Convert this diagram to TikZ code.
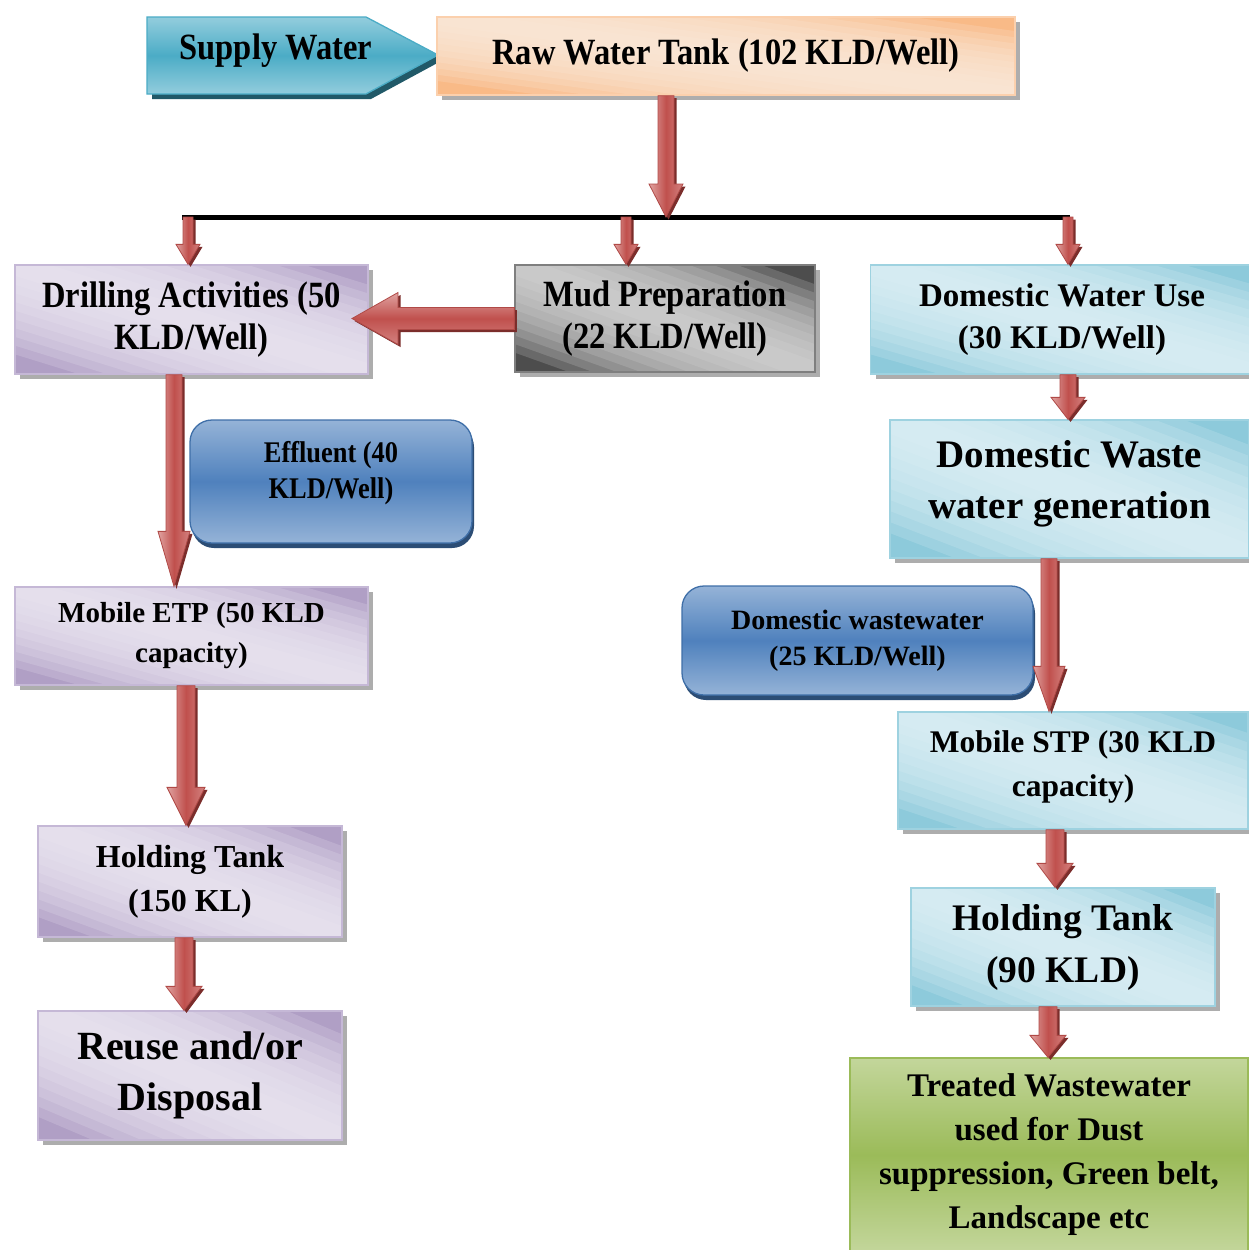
\documentclass[tikz,border=0pt]{standalone}
\usepackage{fontspec}
\setmainfont{Liberation Serif}
\newfontfamily\condf{Liberation Serif}[FakeStretch=0.88]
\usetikzlibrary{calc,shadows}
\definecolor{purD}{HTML}{B09FC5}
\definecolor{purL}{HTML}{EDE9F3}
\definecolor{purB}{HTML}{C5B8D6}
\definecolor{grayD}{HTML}{4D4D4D}
\definecolor{grayL}{HTML}{DADADA}
\definecolor{grayB}{HTML}{7F7F7F}
\definecolor{lbD}{HTML}{8DCADB}
\definecolor{lbL}{HTML}{E0F1F6}
\definecolor{lbB}{HTML}{9ED2E0}
\definecolor{peD}{HTML}{F9BA87}
\definecolor{peL}{HTML}{FDEBDD}
\definecolor{peB}{HTML}{FBD0AD}
\definecolor{grT}{HTML}{C3D69B}
\definecolor{grM}{HTML}{9BBB59}
\definecolor{blL}{HTML}{95B3D7}
\definecolor{blM}{HTML}{4F81BD}
\definecolor{blB}{HTML}{3F6FA8}
\definecolor{blS}{HTML}{2C4D75}
\definecolor{teaL}{HTML}{93CDDD}
\definecolor{teaM}{HTML}{4BACC6}
\definecolor{teaB}{HTML}{4BACC6}
\definecolor{teaS}{HTML}{215968}
\definecolor{redL}{HTML}{E0A3A1}
\definecolor{redM}{HTML}{C0504D}
\definecolor{redB}{HTML}{B04A47}
\definecolor{redS}{HTML}{7B2D2B}
\newcommand\fsz[2]{\fontsize{#1}{#2}\selectfont}
% one translucent band along the top-left / bottom-right diagonal of a box
\newcommand\diagband[2]{%
  \fill[#1, opacity=0.2]
    (path picture bounding box.north west)
    -- ($(path picture bounding box.north west)!#2!(path picture bounding box.north east)$)
    -- ($(path picture bounding box.south east)!#2!(path picture bounding box.north east)$)
    -- (path picture bounding box.south east)
    -- ($(path picture bounding box.south east)!#2!(path picture bounding box.south west)$)
    -- ($(path picture bounding box.north west)!#2!(path picture bounding box.south west)$)
    -- cycle;}
\begin{document}
\begin{tikzpicture}[x=1pt,y=-1pt,
  diag/.style 2 args={fill=#1, path picture={\foreach \s in {0.82,0.74,...,0.06}{\diagband{#2}{\s}}}},
  lightbox/.style 2 args={rectangle, inner sep=0pt, align=center, line width=1.3pt,
    minimum width=#1, minimum height=#2,
    drop shadow={shadow xshift=5pt, shadow yshift=-5pt, fill=black!40, opacity=.8}},
  purbox/.style 2 args={lightbox={#1}{#2}, draw=purB, diag={purD}{purL}},
  graybox/.style 2 args={lightbox={#1}{#2}, draw=grayB, diag={grayD}{grayL}},
  lbbox/.style 2 args={lightbox={#1}{#2}, draw=lbB, diag={lbD}{lbL}},
  pebox/.style 2 args={lightbox={#1}{#2}, draw=peB, diag={peD}{peL}},
  grbox/.style 2 args={lightbox={#1}{#2}, draw=grM, top color=grT, bottom color=grT, middle color=grM},
  bluebox/.style 2 args={rectangle, rounded corners=22pt, inner sep=0pt, align=center, draw=blB, line width=1.3pt,
    minimum width=#1, minimum height=#2,
    top color=blL, bottom color=blL, middle color=blM,
    drop shadow={shadow xshift=2pt, shadow yshift=-5pt, fill=blS, opacity=1}},
  redarr/.style={draw=redB, line width=0.8pt,
    drop shadow={shadow xshift=2.5pt, shadow yshift=-2.5pt, fill=redS, opacity=1}},
  downarr/.style n args={3}{redarr, left color=redL, right color=redL!60!redM, middle color=redM,
    to path={let \p1=(\tikztostart), \p2=(\tikztotarget) in
      (\x1-#1,\y1) -- (\x1+#1,\y1) -- (\x1+#1,\y2+#3) -- (\x1+#2,\y2+#3) -- (\x1,\y2)
      -- (\x1-#2,\y2+#3) -- (\x1-#1,\y2+#3) -- cycle}},
  leftarr/.style n args={3}{redarr, top color=redL, bottom color=redL!60!redM, middle color=redM,
    to path={let \p1=(\tikztostart), \p2=(\tikztotarget) in
      (\x1,\y1+#1) -- (\x2+#3,\y1+#1) -- (\x2+#3,\y1+#2) -- (\x2,\y1)
      -- (\x2+#3,\y1-#2) -- (\x2+#3,\y1-#1) -- (\x1,\y1-#1) -- cycle}}
]
\fill[white] (0,0) rectangle (1249,1250);
\useasboundingbox (0,0) rectangle (1249,1250);

% supply water arrow shape
\shade[top color=teaL, bottom color=teaL, middle color=teaM, draw=teaB, line width=1.3pt,
  drop shadow={shadow xshift=5pt, shadow yshift=-5pt, fill=teaS, opacity=1}]
  (147,17) -- (366,17) -- (438,55) -- (366,94) -- (147,94) -- cycle;
\node[font=\condf\bfseries\fsz{37}{42}] (supply) at (276,51) {Supply Water};

\node[pebox={578pt}{78pt}, font=\condf\bfseries\fsz{37}{42}] (raw) at (726,56) {Raw Water Tank (102 KLD/Well)};

\node[purbox={353pt}{109pt}, font=\condf\bfseries\fsz{37}{42}] (drill) at (191.5,319.5) {Drilling Activities (50\\KLD/Well)};
\node[graybox={300pt}{107pt}, font=\condf\bfseries\fsz{37}{42}] (mud) at (665,318.5) {Mud Preparation\\(22 KLD/Well)};
\node[lbbox={383pt}{109pt}, font=\bfseries\fsz{33}{42}] (domuse) at (1062,319.5) {Domestic Water Use\\(30 KLD/Well)};

\node[bluebox={282pt}{123pt}, font=\condf\bfseries\fsz{30}{36}] (effl) at (331,481.5) {Effluent (40\\KLD/Well)\\[-13pt]\mbox{}};
\node[purbox={353pt}{98pt}, font=\bfseries\fsz{29}{40}] (etp) at (191.5,636) {Mobile ETP (50 KLD\\capacity)};
\node[purbox={304pt}{111pt}, font=\bfseries\fsz{32}{44}] (hold1) at (190,881.5) {Holding Tank\\(150 KL)};
\node[purbox={304pt}{129pt}, font=\bfseries\fsz{40}{51}] (reuse) at (190,1075.5) {Reuse and/or\\Disposal};

\node[lbbox={359pt}{138pt}, font=\bfseries\fsz{39}{51}] (domwaste) at (1069.5,489) {Domestic Waste\\water generation\\[-32pt]\mbox{}};
\node[bluebox={351pt}{109pt}, font=\bfseries\fsz{28}{36}] (domww) at (857.5,640.5) {Domestic wastewater\\(25 KLD/Well)};
\node[lbbox={350pt}{117pt}, font=\bfseries\fsz{31.5}{44}] (stp) at (1073,770.5) {Mobile STP (30 KLD\\capacity)\\[-31pt]\mbox{}};
\node[lbbox={304pt}{118pt}, font=\bfseries\fsz{37.5}{52}] (hold2) at (1063,947) {Holding Tank\\(90 KLD)};
\node[grbox={398pt}{194pt}, font=\bfseries\fsz{33}{44}] (treated) at (1049,1155) {Treated Wastewater\\used for Dust\\suppression, Green belt,\\Landscape etc};

% distribution bar
\coordinate (barL) at (182,217);
\coordinate (barR) at (1070,217);
\coordinate (b1) at (666,217);
\coordinate (b2) at (188,217);
\coordinate (b3) at (626,217);
\coordinate (b4) at (1068,217);
\draw[line width=5pt] (barL) -- (barR);

% helper x positions of connectors
\coordinate (x5) at (352,320);
\coordinate (x6) at (174,480);
\coordinate (x7) at (186,750);
\coordinate (x8) at (184,975);
\coordinate (x9) at (1068,400);
\coordinate (x10) at (1049,640);
\coordinate (x11) at (1055,860);
\coordinate (x12) at (1048,1030);

\path[downarr={8pt}{17pt}{33pt}] (raw.south -| b1) to (b1);
\path[downarr={5pt}{12pt}{20pt}] (b2) to (drill.north -| b2);
\path[downarr={5pt}{12pt}{20pt}] (b3) to (mud.north -| b3);
\path[downarr={5pt}{12pt}{20pt}] (b4) to (domuse.north -| b4);
\path[leftarr={11pt}{26pt}{46pt}] (mud.west) to (drill.east -| x5);
\path[downarr={8pt}{16pt}{55pt}] (drill.south -| x6) to (etp.north -| x6);
\path[downarr={9pt}{19pt}{38pt}] (etp.south -| x7) to (hold1.north -| x7);
\path[downarr={9pt}{18pt}{24pt}] (hold1.south -| x8) to (reuse.north -| x8);
\path[downarr={8pt}{17pt}{22pt}] (domuse.south -| x9) to (domwaste.north -| x9);
\path[downarr={8pt}{16pt}{45pt}] (domwaste.south -| x10) to (stp.north -| x10);
\path[downarr={9pt}{18pt}{24pt}] (stp.south -| x11) to (hold2.north -| x11);
\path[downarr={9pt}{18pt}{22pt}] (hold2.south -| x12) to (treated.north -| x12);
\end{tikzpicture}
\end{document}
